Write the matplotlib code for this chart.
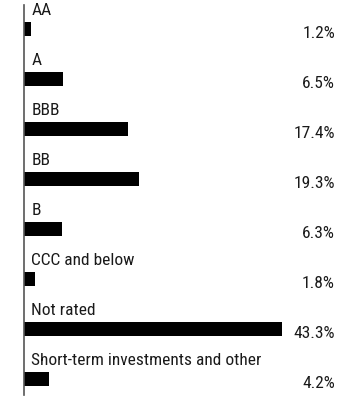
import matplotlib.pyplot as plt

categories = ["AA", "A", "BBB", "BB", "B", "CCC and below", "Not rated",
              "Short-term investments and other"]
values = [1.2, 6.5, 17.4, 19.3, 6.3, 1.8, 43.3, 4.2]

plt.rcParams['font.family'] = ['Roboto Condensed', 'DejaVu Sans']

fig = plt.figure(figsize=(3.6, 3.96), dpi=100)
ax = fig.add_axes([24 / 360, 0, 1 - 24 / 360, 1])

rows = range(len(categories))
ax.barh(list(rows), values, height=0.29, color='black')

for i, (cat, val) in enumerate(zip(categories, values)):
    ax.text(1.2, i - 0.37, cat, ha='left', va='center', fontsize=12.5, color='#1a1a1a')
    ax.text(52.2, i + 0.09, f"{val}%", ha='right', va='center', fontsize=12.5, color='#1a1a1a')

ax.set_xlim(0, 56.4)
ax.set_ylim(7.34, -0.58)
for s in ['top', 'right', 'bottom']:
    ax.spines[s].set_visible(False)
ax.spines['left'].set_color('#555555')
ax.spines['left'].set_linewidth(1.2)
ax.spines['left'].set_bounds(-0.48, 7.32)
ax.set_xticks([])
ax.set_yticks([])

fig.savefig('out.png', dpi=100)
